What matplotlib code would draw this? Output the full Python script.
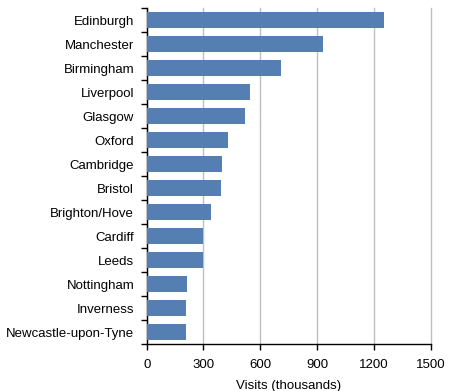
import numpy as np
import matplotlib
matplotlib.use('Agg')
import matplotlib.pyplot as plt

plt.rcParams['font.family'] = ['Liberation Sans', 'DejaVu Sans']

cities = ['Edinburgh', 'Manchester', 'Birmingham', 'Liverpool', 'Glasgow',
          'Oxford', 'Cambridge', 'Bristol', 'Brighton/Hove', 'Cardiff',
          'Leeds', 'Nottingham', 'Inverness', 'Newcastle-upon-Tyne']
visits = [1253, 931, 709, 546, 519, 429, 397, 392, 339, 297, 297, 213, 208, 208]
xticks = [0, 300, 600, 900, 1200, 1500]

fig = plt.figure(figsize=(4.5, 3.91), dpi=100)
ax = fig.add_axes([0.326, 0.120, 0.631, 0.8595])

n = len(cities)
ypos = np.arange(n)
ax.barh(ypos, visits, height=0.7, color='#557EB2', zorder=3)

ax.set_xlim(0, 1500)
ax.set_ylim(n - 0.5, -0.5)
ax.set_xticks(xticks)
ax.set_xticklabels([str(t) for t in xticks], fontsize=9.5)
ax.set_yticks(ypos)
ax.set_yticklabels(cities, fontsize=9.5)
ax.tick_params(axis='y', length=0, pad=9)
ax.set_yticks(np.arange(n + 1) - 0.5, minor=True)
ax.tick_params(axis='y', which='minor', length=4, width=1, direction='out')
ax.tick_params(axis='x', length=4, width=1, direction='out', pad=7)

ax.grid(axis='x', color='#BEBEBE', linewidth=1, zorder=0)
for line in ax.get_xgridlines():
    line.set_clip_on(False)
for s in ['top', 'right']:
    ax.spines[s].set_visible(False)
for s in ['left', 'bottom']:
    ax.spines[s].set_color('black')
    ax.spines[s].set_linewidth(1)

ax.set_xlabel('Visits (thousands)', fontsize=9.5, labelpad=6)

fig.savefig('out.png', dpi=100)
